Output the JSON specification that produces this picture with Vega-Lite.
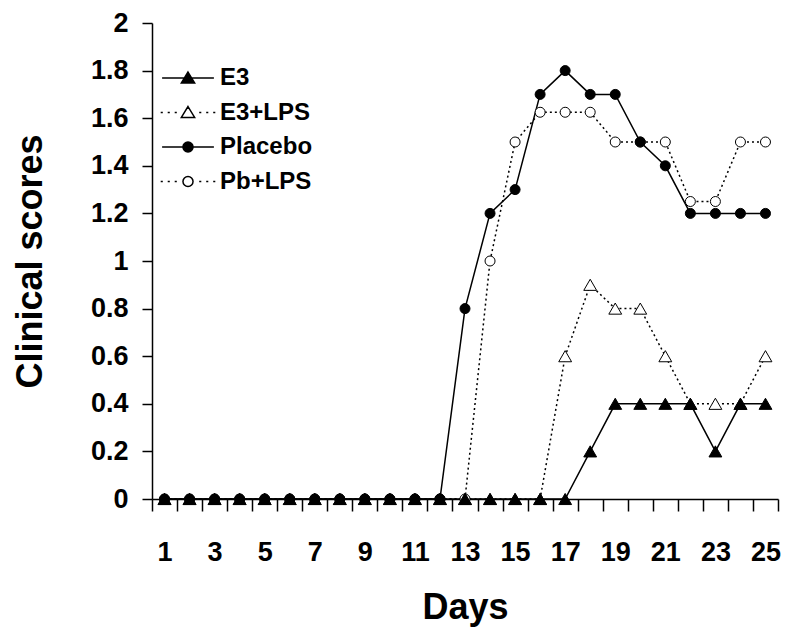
{
  "$schema": "https://vega.github.io/schema/vega-lite/v6.json",
  "width": 626,
  "height": 476,
  "autosize": "none",
  "padding": {"left": 152, "top": 23, "right": 10, "bottom": 134},
  "background": "white",
  "config": {
    "view": {"stroke": null},
    "font": "Liberation Sans",
    "axis": {
      "domainColor": "black", "domainWidth": 1.5, "tickColor": "black", "tickWidth": 1.5,
      "labelColor": "black", "labelFont": "Liberation Sans", "labelFontWeight": "bold",
      "titleColor": "black", "titleFont": "Liberation Sans", "titleFontWeight": "bold",
      "grid": false
    },
    "legend": {
      "labelFont": "Liberation Sans", "labelFontWeight": "bold", "labelColor": "black", "labelFontSize": 24
    }
  },
  "data": {"values": [
    {"series":"Pb+LPS","day":1,"score":0},{"series":"Pb+LPS","day":2,"score":0},{"series":"Pb+LPS","day":3,"score":0},{"series":"Pb+LPS","day":4,"score":0},{"series":"Pb+LPS","day":5,"score":0},{"series":"Pb+LPS","day":6,"score":0},{"series":"Pb+LPS","day":7,"score":0},{"series":"Pb+LPS","day":8,"score":0},{"series":"Pb+LPS","day":9,"score":0},{"series":"Pb+LPS","day":10,"score":0},{"series":"Pb+LPS","day":11,"score":0},{"series":"Pb+LPS","day":12,"score":0},{"series":"Pb+LPS","day":13,"score":0},{"series":"Pb+LPS","day":14,"score":1.0},{"series":"Pb+LPS","day":15,"score":1.5},{"series":"Pb+LPS","day":16,"score":1.625},{"series":"Pb+LPS","day":17,"score":1.625},{"series":"Pb+LPS","day":18,"score":1.625},{"series":"Pb+LPS","day":19,"score":1.5},{"series":"Pb+LPS","day":20,"score":1.5},{"series":"Pb+LPS","day":21,"score":1.5},{"series":"Pb+LPS","day":22,"score":1.25},{"series":"Pb+LPS","day":23,"score":1.25},{"series":"Pb+LPS","day":24,"score":1.5},{"series":"Pb+LPS","day":25,"score":1.5},
    {"series":"E3+LPS","day":1,"score":0},{"series":"E3+LPS","day":2,"score":0},{"series":"E3+LPS","day":3,"score":0},{"series":"E3+LPS","day":4,"score":0},{"series":"E3+LPS","day":5,"score":0},{"series":"E3+LPS","day":6,"score":0},{"series":"E3+LPS","day":7,"score":0},{"series":"E3+LPS","day":8,"score":0},{"series":"E3+LPS","day":9,"score":0},{"series":"E3+LPS","day":10,"score":0},{"series":"E3+LPS","day":11,"score":0},{"series":"E3+LPS","day":12,"score":0},{"series":"E3+LPS","day":13,"score":0},{"series":"E3+LPS","day":14,"score":0},{"series":"E3+LPS","day":15,"score":0},{"series":"E3+LPS","day":16,"score":0},{"series":"E3+LPS","day":17,"score":0.6},{"series":"E3+LPS","day":18,"score":0.9},{"series":"E3+LPS","day":19,"score":0.8},{"series":"E3+LPS","day":20,"score":0.8},{"series":"E3+LPS","day":21,"score":0.6},{"series":"E3+LPS","day":22,"score":0.4},{"series":"E3+LPS","day":23,"score":0.4},{"series":"E3+LPS","day":24,"score":0.4},{"series":"E3+LPS","day":25,"score":0.6},
    {"series":"Placebo","day":1,"score":0},{"series":"Placebo","day":2,"score":0},{"series":"Placebo","day":3,"score":0},{"series":"Placebo","day":4,"score":0},{"series":"Placebo","day":5,"score":0},{"series":"Placebo","day":6,"score":0},{"series":"Placebo","day":7,"score":0},{"series":"Placebo","day":8,"score":0},{"series":"Placebo","day":9,"score":0},{"series":"Placebo","day":10,"score":0},{"series":"Placebo","day":11,"score":0},{"series":"Placebo","day":12,"score":0},{"series":"Placebo","day":13,"score":0.8},{"series":"Placebo","day":14,"score":1.2},{"series":"Placebo","day":15,"score":1.3},{"series":"Placebo","day":16,"score":1.7},{"series":"Placebo","day":17,"score":1.8},{"series":"Placebo","day":18,"score":1.7},{"series":"Placebo","day":19,"score":1.7},{"series":"Placebo","day":20,"score":1.5},{"series":"Placebo","day":21,"score":1.4},{"series":"Placebo","day":22,"score":1.2},{"series":"Placebo","day":23,"score":1.2},{"series":"Placebo","day":24,"score":1.2},{"series":"Placebo","day":25,"score":1.2},
    {"series":"E3","day":1,"score":0},{"series":"E3","day":2,"score":0},{"series":"E3","day":3,"score":0},{"series":"E3","day":4,"score":0},{"series":"E3","day":5,"score":0},{"series":"E3","day":6,"score":0},{"series":"E3","day":7,"score":0},{"series":"E3","day":8,"score":0},{"series":"E3","day":9,"score":0},{"series":"E3","day":10,"score":0},{"series":"E3","day":11,"score":0},{"series":"E3","day":12,"score":0},{"series":"E3","day":13,"score":0},{"series":"E3","day":14,"score":0},{"series":"E3","day":15,"score":0},{"series":"E3","day":16,"score":0},{"series":"E3","day":17,"score":0},{"series":"E3","day":18,"score":0.2},{"series":"E3","day":19,"score":0.4},{"series":"E3","day":20,"score":0.4},{"series":"E3","day":21,"score":0.4},{"series":"E3","day":22,"score":0.4},{"series":"E3","day":23,"score":0.2},{"series":"E3","day":24,"score":0.4},{"series":"E3","day":25,"score":0.4}
  ]},
  "encoding": {
    "x": {
      "field": "day", "type": "ordinal",
      "scale": {"type": "band", "paddingInner": 0, "paddingOuter": 0},
      "axis": {
        "tickBand": "extent", "labelAngle": 0, "labelOverlap": false,
        "labelExpr": "datum.value % 2 == 1 ? datum.label : ''",
        "labelFontSize": 27, "labelPadding": 28, "tickSize": 12,
        "title": "Days", "titleFontSize": 36, "titleY": 108, "titleBaseline": "middle"
      }
    },
    "y": {
      "field": "score", "type": "quantitative",
      "scale": {"domain": [0, 2], "nice": false, "zero": true},
      "axis": {
        "values": [0, 0.2, 0.4, 0.6, 0.8, 1, 1.2, 1.4, 1.6, 1.8, 2],
        "format": ".1~f", "labelFontSize": 27, "labelPadding": 14, "tickSize": 10,
        "title": "Clinical scores", "titleFontSize": 36, "titleX": -122, "titleY": 238,
        "titleAngle": -90, "titleAlign": "center", "titleBaseline": "middle"
      }
    }
  },
  "layer": [
    {
      "transform": [{"filter": "datum.series === 'E3' || datum.series === 'Placebo'"}],
      "mark": {"type": "line", "strokeWidth": 1.5},
      "encoding": {
        "color": {
          "field": "series", "type": "nominal",
          "scale": {"domain": ["E3", "E3+LPS", "Placebo", "Pb+LPS"], "range": ["black", "black", "black", "black"]},
          "legend": {
            "title": null, "orient": "none", "legendX": 24, "legendY": 43, "padding": 0,
            "rowPadding": 10.5, "labelOffset": 20, "symbolSize": 196,
            "encode": {
              "symbols": {"update": {
                "shape": {"signal": "datum.value === 'E3' ? 'M-3.7,0H3.7M0,-0.85L0.95,0.7L-0.95,0.7Z' : datum.value === 'E3+LPS' ? 'M-3.9,0H-3.6M-2.9,0H-2.6M-1.9,0H-1.6M1.6,0H1.9M2.6,0H2.9M3.6,0H3.9M0,-0.85L0.95,0.7L-0.95,0.7Z' : datum.value === 'Placebo' ? 'M-3.7,0H3.7M0.72,0A0.72,0.72,0,1,1,-0.72,0A0.72,0.72,0,1,1,0.72,0Z' : 'M-3.9,0H-3.6M-2.9,0H-2.6M-1.9,0H-1.6M1.6,0H1.9M2.6,0H2.9M3.6,0H3.9M0.72,0A0.72,0.72,0,1,1,-0.72,0A0.72,0.72,0,1,1,0.72,0Z'"},
                "fill": {"signal": "datum.value === 'E3' || datum.value === 'Placebo' ? 'black' : 'white'"},
                "stroke": {"value": "black"},
                "strokeWidth": {"value": 1.5},
                "size": {"value": 196},
                "opacity": {"value": 1},
                "fillOpacity": {"value": 1}
              }}
            }
          }
        },
        "order": {"field": "day", "type": "quantitative"}
      }
    },
    {
      "transform": [{"filter": "datum.series === 'E3+LPS' || datum.series === 'Pb+LPS'"}],
      "mark": {"type": "line", "stroke": "black", "strokeWidth": 1.5, "strokeDash": [2, 3]},
      "encoding": {
        "detail": {"field": "series", "type": "nominal"},
        "order": {"field": "day", "type": "quantitative"}
      }
    },
    {
      "transform": [{"filter": "datum.series === 'Pb+LPS'"}],
      "mark": {"type": "point", "shape": "circle", "size": 100, "filled": true, "fill": "white", "stroke": "black", "strokeWidth": 1, "opacity": 1},
      "encoding": {}
    },
    {
      "transform": [{"filter": "datum.series === 'E3+LPS'"}],
      "mark": {"type": "point", "shape": "triangle-up", "size": 165, "filled": true, "fill": "white", "stroke": "black", "strokeWidth": 1, "opacity": 1},
      "encoding": {}
    },
    {
      "transform": [{"filter": "datum.series === 'Placebo'"}],
      "mark": {"type": "point", "shape": "circle", "size": 100, "filled": true, "fill": "black", "stroke": "black", "strokeWidth": 1, "opacity": 1},
      "encoding": {}
    },
    {
      "transform": [{"filter": "datum.series === 'E3'"}],
      "mark": {"type": "point", "shape": "triangle-up", "size": 165, "filled": true, "fill": "black", "stroke": "black", "strokeWidth": 1, "opacity": 1},
      "encoding": {}
    }
  ]
}
